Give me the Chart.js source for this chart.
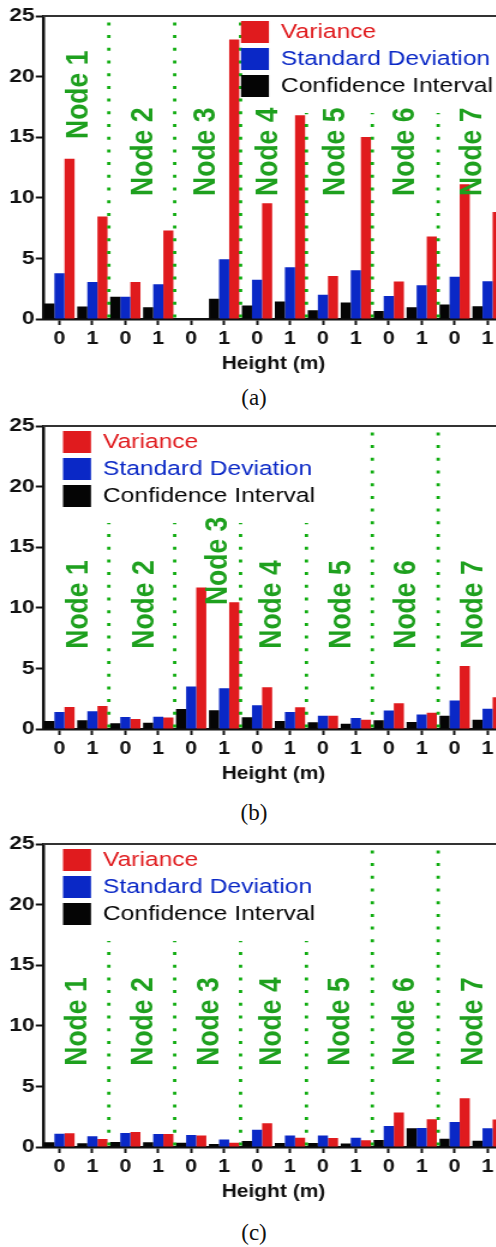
<!DOCTYPE html>
<html><head><meta charset="utf-8">
<script src="https://cdn.jsdelivr.net/npm/chart.js@4.4.1/dist/chart.umd.min.js"></script>
<style>
html,body{margin:0;padding:0;background:#fff;width:496px;height:1247px;overflow:hidden;position:relative;}
.panel{position:absolute;left:0;width:520px;}
.panel canvas{transform:scaleX(1.2);transform-origin:0 0;display:block;}
.cap{position:absolute;left:0;width:508px;text-align:center;font-family:"Liberation Serif","Times New Roman",serif;font-size:23px;line-height:23px;color:#111;}
</style></head><body>
<div class="panel" style="top:0px"><canvas id="ca" width="420" height="375"></canvas></div>
<div class="panel" style="top:410px"><canvas id="cb" width="420" height="375"></canvas></div>
<div class="panel" style="top:828px"><canvas id="cc" width="420" height="375"></canvas></div>
<div class="cap" style="top:386px">(a)</div>
<div class="cap" style="top:801px">(b)</div>
<div class="cap" style="top:1221px">(c)</div>
<script>
const categories = ['0','1','0','1','0','1','0','1','0','1','0','1','0','1'];
const nodeNames = ['Node 1','Node 2','Node 3','Node 4','Node 5','Node 6','Node 7'];
const seriesNames = ['Confidence Interval','Standard Deviation','Variance'];
const seriesColors = ['#050505','#0a28c6','#e01b1e'];
const yTicks = [0,5,10,15,20,25];
const xTitle = 'Height (m)';

// Panel (a)
const ciA  = [1.28,1.03,1.83,0.97,0,1.67,1.11,1.44,0.72,1.36,0.67,0.97,1.19,1.05];
const sdA  = [3.78,3.06,1.83,2.86,0,4.94,3.24,4.26,2.01,4.03,1.90,2.78,3.49,3.11];
const varA = [13.23,8.46,3.06,7.30,0,23.07,9.56,16.81,3.55,15.02,3.10,6.81,11.11,8.82];
const nodeYA = [18.5,13.8,13.8,13.8,13.8,13.8,13.8];
const lineTopA = [25,25,25,17,17,17];

// Panel (b)
const ciB  = [0.66,0.72,0.47,0.52,1.66,1.55,0.97,0.66,0.55,0.44,0.72,0.58,1.10,0.77];
const sdB  = [1.41,1.46,0.99,1.02,3.50,3.37,1.96,1.41,1.10,0.91,1.52,1.19,2.35,1.68];
const varB = [1.82,1.90,0.83,0.94,11.67,10.46,3.45,1.79,1.10,0.77,2.12,1.35,5.19,2.62];
const nodeYB = [10.27,10.27,13.87,10.27,10.27,10.27,10.27];
const lineTopB = [17,17,17,17,25,25];

// Panel (c)
const ciC  = [0.39,0.30,0.41,0.39,0.36,0.25,0.50,0.33,0.33,0.28,0.58,1.55,0.69,0.52];
const sdC  = [1.10,0.88,1.16,1.08,0.99,0.61,1.43,0.94,0.94,0.77,1.74,1.57,2.07,1.55];
const varC = [1.13,0.66,1.24,1.08,0.94,0.36,1.96,0.77,0.75,0.55,2.84,2.29,4.03,2.26];
const nodeYC = [10.35,10.35,10.35,10.35,10.35,10.35,10.35];
const lineTopC = [17,17,17,17,25,25];

const FONT = '"Liberation Sans", Arial, Helvetica, sans-serif';
Chart.defaults.font.family = FONT;

const decor = {
  id: 'decor',
  afterDatasetsDraw(chart) {
    const o = chart.options.plugins.decor;
    const {ctx, chartArea} = chart;
    const x = chart.scales.x, y = chart.scales.y;
    ctx.save();
    // top frame line
    ctx.strokeStyle = '#333'; ctx.lineWidth = 2;
    ctx.beginPath(); ctx.moveTo(chartArea.left, chartArea.top); ctx.lineTo(chartArea.right, chartArea.top); ctx.stroke();
    // dotted separators
    ctx.strokeStyle = '#12ad12'; ctx.lineWidth = 2.8; ctx.setLineDash([3, 9.7]);
    o.lineTops.forEach((top, i) => {
      const xp = (x.getPixelForValue(2*i+1) + x.getPixelForValue(2*i+2)) / 2;
      ctx.beginPath();
      ctx.moveTo(xp, y.getPixelForValue(0) - 1.5);
      ctx.lineTo(xp, y.getPixelForValue(top));
      ctx.stroke();
    });
    ctx.setLineDash([]);
    // node labels
    ctx.fillStyle = '#1ea01e';
    ctx.font = 'bold 26.5px ' + FONT;
    ctx.textAlign = 'center'; ctx.textBaseline = 'middle';
    o.nodeNames.forEach((name, i) => {
      const xp = (x.getPixelForValue(2*i) + x.getPixelForValue(2*i+1)) / 2 + o.nodeShift[i] / 1.2;
      const yp = y.getPixelForValue(o.nodeY[i]);
      ctx.save(); ctx.translate(xp, yp); ctx.rotate(-Math.PI/2); ctx.fillText(name, 0, 0); ctx.restore();
    });
    // legend (reverse dataset order)
    const ds = chart.data.datasets.slice().reverse();
    ctx.font = '20.5px ' + FONT;
    ctx.textAlign = 'left'; ctx.textBaseline = 'middle';
    ds.forEach((d, i) => {
      const bx = chartArea.left + o.legendLeft;
      const by = chartArea.top + 5 + i * 27;
      ctx.fillStyle = d.backgroundColor;
      ctx.fillRect(bx, by, 23.3, 22);
      ctx.fillText(d.label, bx + 33.3, by + 11.5);
    });
    ctx.restore();
  }
};

function makeChart(id, ci, sd, vr, nodeY, lineTops, legendLeft, nodeShift) {
  const vals = [ci, sd, vr];
  return new Chart(document.getElementById(id), {
    type: 'bar',
    data: {
      labels: categories,
      datasets: seriesNames.map((n, i) => ({
        label: n, data: vals[i], backgroundColor: seriesColors[i], borderWidth: 0,
        categoryPercentage: 0.92, barPercentage: 1.0
      }))
    },
    options: {
      responsive: false, animation: false, devicePixelRatio: 1,
      layout: { padding: { top: 16, left: 0, right: 0, bottom: 0 } },
      plugins: {
        legend: { display: false }, tooltip: { enabled: false },
        decor: { nodeNames, nodeY, lineTops, legendLeft, nodeShift }
      },
      scales: {
        x: {
          offset: true,
          grid: { display: true, offset: false, drawOnChartArea: false, drawTicks: true, tickLength: 6, tickWidth: 2, tickColor: '#111' },
          border: { display: true, color: '#111', width: 2.5 },
          ticks: { font: { size: 18, weight: 'bold' }, color: '#111', padding: 3, maxRotation: 0, autoSkip: false },
          title: { display: true, text: xTitle, font: { size: 17.5, weight: 'bold' }, color: '#111', padding: 0 },
          afterFit: s => { s.height = 56; }
        },
        y: {
          min: 0, max: 25,
          afterBuildTicks: s => { s.ticks = yTicks.map(v => ({ value: v })); },
          grid: { display: true, drawOnChartArea: false, drawTicks: true, tickLength: 6, tickWidth: 2, tickColor: '#111' },
          border: { display: true, color: '#111', width: 2.5 },
          ticks: { font: { size: 19, weight: 'bold' }, color: '#111', padding: 1 },
          afterFit: s => { s.width = 35.8; }
        }
      }
    },
    plugins: [decor]
  });
}

makeChart('ca', ciA, sdA, varA, nodeYA, lineTopA, 165,  [2.5, 1.5, -1.5, -5, -3.5, 0.5, 1.5]);
makeChart('cb', ciB, sdB, varB, nodeYB, lineTopB, 16.7, [2.5, 2.5, 10.5, -1.5, 2, 1.5, 2.5]);
makeChart('cc', ciC, sdC, varC, nodeYC, lineTopC, 16.7, [1.5, 1.5, 1.5, -1.5, 0.5, 0.5, 2.5]);
</script>
</body></html>
